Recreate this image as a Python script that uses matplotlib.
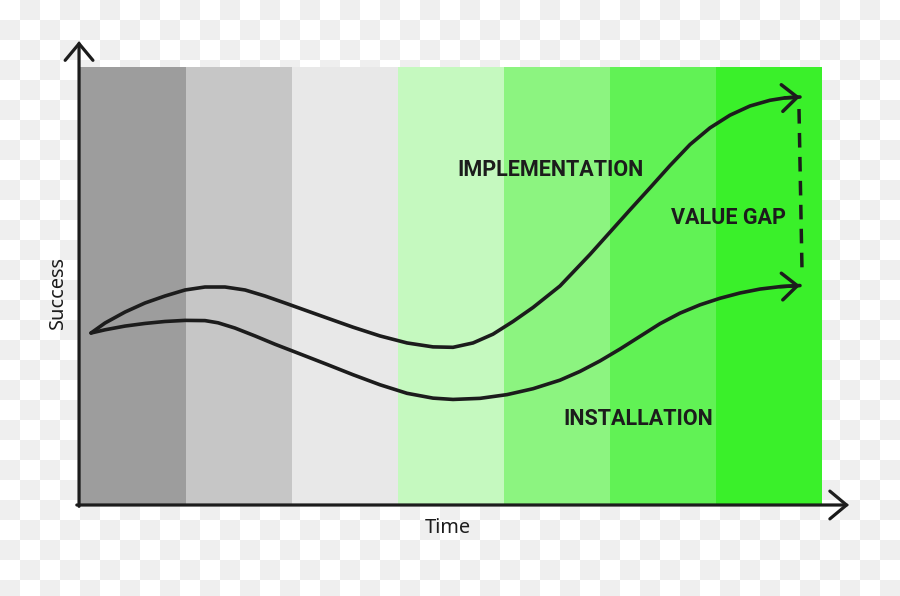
#!/usr/bin/env python3

import numpy as np
import matplotlib
matplotlib.use("Agg")
import matplotlib.pyplot as plt


# =====================================================
# DATA (x in phase units 0-7, y in success units 0-100)
# =====================================================

phase_start = [0, 1, 2, 3, 4, 5, 6]
phase_colors = ["#9d9d9d", "#c6c6c6", "#e8e8e8", "#c5f9bf",
                "#8cf480", "#61f255", "#3af02a"]

impl_x = [0.104, 0.236, 0.425, 0.613, 0.802, 0.991, 1.179, 1.368, 1.557,
          1.745, 1.934, 2.075, 2.330, 2.575, 2.830, 3.085, 3.330, 3.519,
          3.708, 3.896, 4.085, 4.274, 4.528, 4.811, 5.000, 5.189, 5.377,
          5.566, 5.755, 5.943, 6.132, 6.321, 6.509, 6.651, 6.792]
impl_y = [39.27, 41.55, 44.06, 46.12, 47.72, 49.09, 49.77, 49.77, 49.09,
          47.72, 46.12, 44.90, 42.70, 40.60, 38.60, 37.00, 36.10, 36.00,
          37.00, 39.00, 41.90, 45.10, 50.00, 57.20, 62.30, 67.40, 72.40,
          77.50, 82.30, 86.10, 89.00, 91.10, 92.40, 92.95, 93.15]

inst_x = [0.104, 0.236, 0.425, 0.613, 0.802, 0.991, 1.179, 1.302, 1.462,
          1.651, 1.840, 2.075, 2.330, 2.575, 2.830, 3.085, 3.330, 3.519,
          3.774, 4.028, 4.274, 4.528, 4.717, 4.906, 5.094, 5.283, 5.472,
          5.660, 5.849, 6.038, 6.226, 6.415, 6.604, 6.792]
inst_y = [39.27, 40.00, 40.85, 41.45, 41.90, 42.15, 42.10, 41.60, 40.40,
          38.60, 36.70, 34.50, 32.10, 29.75, 27.45, 25.50, 24.40, 24.10,
          24.35, 25.20, 26.55, 28.50, 30.50, 32.90, 35.60, 38.50, 41.40,
          43.80, 45.70, 47.20, 48.40, 49.30, 49.85, 50.10]

gap_x = [6.783, 6.811]
gap_y = [90.41, 54.11]

labels = ["IMPLEMENTATION", "VALUE GAP", "INSTALLATION"]
label_x = [4.443, 6.113, 5.264]
label_y = [75.11, 64.16, 18.26]


# =====================================================
# FIGURE
# =====================================================

INK = "#1c1c1c"
fig = plt.figure(figsize=(9, 5.96), dpi=100)

# fake transparency checkerboard behind everything
bg = fig.add_axes([0, 0, 1, 1], zorder=0)
cols, rows = 45, 30
checker = (np.add.outer(np.arange(rows), np.arange(cols)) % 2).astype(float)
bg.imshow(checker, cmap=matplotlib.colors.ListedColormap(["#ffffff", "#efefef"]),
          interpolation="nearest", extent=(0, cols * 20, rows * 20, 0))
bg.set_xlim(0, 900)
bg.set_ylim(596, 0)
bg.axis("off")

ax = fig.add_axes([80 / 900, 91 / 596, 742 / 900, 438 / 596], zorder=1)
ax.patch.set_visible(False)
ax.set_xlim(0, 7)
ax.set_ylim(0, 100)
for s in ax.spines.values():
    s.set_visible(False)
ax.set_xticks([])
ax.set_yticks([])

# phase bands
ax.bar(phase_start, 100, width=1, align="edge", color=phase_colors,
       edgecolor="none", zorder=1)

# axes with arrow heads
axis_arrow = dict(arrowstyle="->,head_length=0.6,head_width=0.5",
                  lw=2.3, color=INK, mutation_scale=20,
                  shrinkA=0, shrinkB=0, joinstyle="miter")
ax.annotate("", xy=(-0.009, 105.9), xytext=(-0.009, -0.3),
            arrowprops=axis_arrow, annotation_clip=False, zorder=5)
ax.annotate("", xy=(7.255, 0), xytext=(-0.03, 0),
            arrowprops=axis_arrow, annotation_clip=False, zorder=5)

# curves
curve_arrow = dict(arrowstyle="->,head_length=0.55,head_width=0.48",
                   lw=2.5, color=INK, mutation_scale=20,
                   shrinkA=0, shrinkB=0)
for xs, ys in [(impl_x, impl_y), (inst_x, inst_y)]:
    ax.plot(xs, ys, color=INK, lw=2.6, solid_joinstyle="round",
            solid_capstyle="round", zorder=4)
    ax.annotate("", xy=(xs[-1], ys[-1]), xytext=(xs[-2], ys[-2]),
                arrowprops=curve_arrow, zorder=4)

# value gap
ax.plot(gap_x, gap_y, color=INK, lw=2.5, linestyle=(0, (4.2, 2.7)),
        dash_capstyle="butt", zorder=4)

for txt, x, y in zip(labels, label_x, label_y):
    ax.text(x, y, txt, ha="center", va="baseline", fontsize=15.5,
            fontweight="bold", family="Roboto", color=INK, zorder=6)

ax.text(3.472, -6.39, "Time", ha="center", va="baseline", fontsize=14.4,
        family="Noto Sans", color=INK)
ax.text(-0.208, 48.63, "Success", ha="center", va="center", rotation=90,
        fontsize=14.4, family="Noto Sans", color=INK)

fig.savefig("out.png", dpi=100)
